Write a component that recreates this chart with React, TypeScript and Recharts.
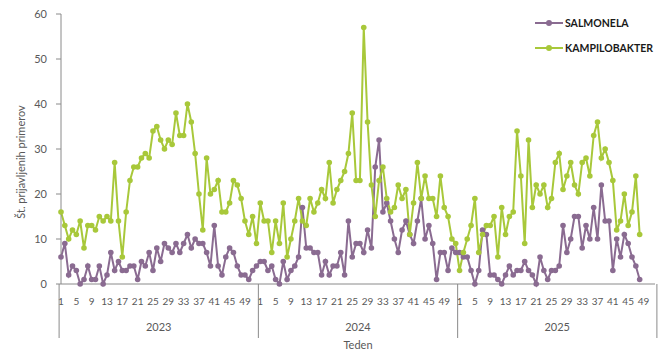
import React from 'react';
import { LineChart, Line, XAxis, YAxis, Legend } from 'recharts';

const YEARS = ['2023', '2024', '2025'];
const WEEKS_PER_YEAR = 52;
const Y_TICKS = [0, 10, 20, 30, 40, 50, 60];

const salmonela2023 = [6, 9, 2, 4, 3, 0, 1, 4, 1, 1, 4, 0, 2, 7, 3, 5, 3, 3, 4, 4, 1, 5, 4, 7, 3, 8, 5, 9, 8, 7, 9, 7, 9, 11, 8, 10, 9, 9, 7, 4, 13, 4, 2, 6, 8, 7, 4, 2, 2, 1, 3, 4];
const salmonela2024 = [5, 5, 3, 4, 1, 0, 5, 1, 3, 4, 6, 17, 8, 8, 7, 7, 2, 5, 2, 4, 4, 7, 2, 14, 6, 9, 9, 7, 12, 8, 26, 32, 16, 18, 14, 10, 7, 12, 14, 11, 9, 14, 19, 10, 13, 9, 1, 7, 7, 3, 8, 7];
const salmonela2025 = [7, 6, 6, 3, 0, 3, 12, 11, 2, 2, 1, 0, 2, 4, 2, 3, 3, 5, 3, 2, 0, 6, 3, 1, 3, 3, 4, 13, 7, 10, 15, 15, 8, 13, 10, 17, 10, 22, 14, 14, 3, 10, 6, 11, 9, 6, 4, 1];

const kampilobakter2023 = [16, 13, 10, 12, 11, 14, 8, 13, 13, 12, 15, 14, 15, 14, 27, 14, 6, 16, 23, 26, 26, 28, 29, 28, 34, 35, 32, 30, 32, 31, 38, 33, 33, 40, 36, 29, 20, 12, 28, 20, 21, 23, 16, 16, 18, 23, 22, 19, 14, 11, 15, 9];
const kampilobakter2024 = [18, 14, 14, 7, 14, 9, 18, 6, 10, 14, 19, 14, 13, 19, 16, 18, 21, 19, 27, 18, 21, 23, 25, 29, 38, 23, 23, 57, 36, 22, 15, 23, 26, 19, 16, 17, 22, 19, 21, 11, 18, 27, 19, 24, 19, 19, 15, 24, 17, 15, 10, 9];
const kampilobakter2025 = [3, 7, 10, 13, 19, 7, 11, 13, 13, 15, 6, 17, 11, 15, 16, 34, 24, 9, 32, 17, 22, 20, 22, 17, 19, 27, 29, 21, 24, 27, 22, 20, 27, 28, 24, 33, 36, 28, 30, 27, 23, 12, 14, 20, 13, 16, 24, 11];

const salmonelaByYear = [salmonela2023, salmonela2024, salmonela2025];
const kampilobakterByYear = [kampilobakter2023, kampilobakter2024, kampilobakter2025];

const PURPLE = '#8a6b91';
const GREEN = '#a8c83a';
const AXIS = '#8a8a8a';
const TEXT = '#595959';
const FONT = 'Lato, "Open Sans", sans-serif';

type Row = { key: number; year: string; week: number; salmonela: number | null; kampilobakter: number | null };

const data: Row[] = [];
YEARS.forEach((year, yi) => {
  for (let w = 1; w <= WEEKS_PER_YEAR; w++) {
    const s = salmonelaByYear[yi][w - 1];
    const k = kampilobakterByYear[yi][w - 1];
    data.push({
      key: data.length,
      year,
      week: w,
      salmonela: s === undefined ? null : s,
      kampilobakter: k === undefined ? null : k,
    });
  }
});

const CHART_W = 670;
const CHART_H = 356;
const MARGIN = { top: 14, right: 15, left: 0, bottom: 0 };
const Y_AXIS_W = 61;
const X_AXIS_H = 72;
const BAND = (CHART_W - Y_AXIS_W - MARGIN.right) / data.length;

function WeekTick(props: any) {
  const { x, y, payload } = props;
  const row = data[payload.value];
  if (!row) return null;
  const items: React.ReactNode[] = [];
  if (row.week % 4 === 1) {
    items.push(
      <text key="w" x={x} y={y + 21} textAnchor="middle" fontSize={10} fill={TEXT} fontFamily={FONT}>
        {row.week}
      </text>
    );
  }
  if (row.week === 1) {
    items.push(<line key="s" x1={x - BAND / 2} x2={x - BAND / 2} y1={y} y2={y + 54} stroke={AXIS} strokeWidth={1} />);
  }
  if (row.week === WEEKS_PER_YEAR && row.key === data.length - 1) {
    items.push(<line key="e" x1={x + BAND / 2} x2={x + BAND / 2} y1={y} y2={y + 54} stroke={AXIS} strokeWidth={1} />);
  }
  if (row.week === WEEKS_PER_YEAR / 2) {
    items.push(
      <text key="y" x={x + BAND / 2} y={y + 47} textAnchor="middle" fontSize={11} fill={TEXT} fontFamily={FONT}>
        {row.year}
      </text>
    );
  }
  return <g>{items}</g>;
}

function LegendContent() {
  const entries = [
    { name: 'SALMONELA', color: PURPLE },
    { name: 'KAMPILOBAKTER', color: GREEN },
  ];
  return (
    <div style={{ fontFamily: FONT, fontWeight: 700, fontSize: 10.5, color: '#1a1a1a' }}>
      {entries.map((e) => (
        <div key={e.name} style={{ display: 'flex', alignItems: 'center', height: 25.5 }}>
          <svg width={28} height={10} style={{ display: 'block' }}>
            <line x1={0} x2={28} y1={5} y2={5} stroke={e.color} strokeWidth={2} />
            <circle cx={14} cy={5} r={3} fill={e.color} />
          </svg>
          <span style={{ marginLeft: 2, lineHeight: '12px' }}>{e.name}</span>
        </div>
      ))}
    </div>
  );
}

function YLabel(props: any) {
  const vb = props.viewBox || { x: 0, y: 0, width: 0, height: 0 };
  const cx = vb.x + 20;
  const cy = vb.y + vb.height / 2 + 13;
  return (
    <text
      x={cx}
      y={cy}
      transform={`rotate(-90 ${cx} ${cy})`}
      textAnchor="middle"
      dominantBaseline="central"
      fontSize={11}
      fill={TEXT}
      fontFamily={FONT}
    >
      Št. prijavljenih primerov
    </text>
  );
}

export default function App() {
  return (
    <div style={{ position: 'absolute', left: 0, top: 0, width: CHART_W, height: CHART_H, background: '#fff' }}>
      <LineChart width={CHART_W} height={CHART_H} data={data} margin={MARGIN}>
        <XAxis
          dataKey="key"
          interval={0}
          height={X_AXIS_H}
          tickSize={0}
          tickMargin={0}
          tickLine={false}
          axisLine={{ stroke: AXIS }}
          tick={<WeekTick />}
          label={{ value: 'Teden', position: 'insideBottom', offset: 7, fontSize: 11, fill: TEXT, fontFamily: FONT }}
        />
        <YAxis
          domain={[0, 60]}
          ticks={Y_TICKS}
          width={Y_AXIS_W}
          tickSize={5}
          tickMargin={9}
          axisLine={{ stroke: AXIS }}
          tickLine={{ stroke: AXIS }}
          tick={{ fontSize: 11, fill: TEXT, fontFamily: FONT }}
          label={<YLabel />}
        />
        <Legend
          verticalAlign="middle"
          align="center"
          layout="vertical"
          content={<LegendContent />}
          wrapperStyle={{ left: 535, top: 10, width: 135, right: 'auto', bottom: 'auto' }}
        />
        <Line
          type="linear"
          dataKey="salmonela"
          stroke={PURPLE}
          strokeWidth={2}
          dot={{ r: 2.8, fill: PURPLE, stroke: PURPLE, strokeWidth: 0 }}
          activeDot={false}
          isAnimationActive={false}
        />
        <Line
          type="linear"
          dataKey="kampilobakter"
          stroke={GREEN}
          strokeWidth={2}
          dot={{ r: 2.8, fill: GREEN, stroke: GREEN, strokeWidth: 0 }}
          activeDot={false}
          isAnimationActive={false}
        />
      </LineChart>
    </div>
  );
}
